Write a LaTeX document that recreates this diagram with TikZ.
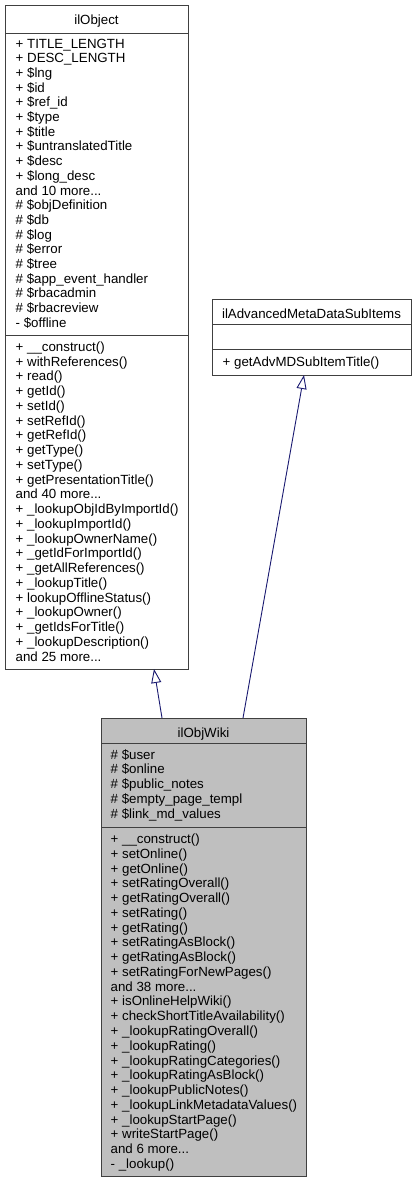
\documentclass[tikz,border=0pt]{standalone}
\usepackage{fontspec}
\setmainfont{Liberation Sans}
\usetikzlibrary{arrows.meta}
\definecolor{edgeblue}{HTML}{191970}
\definecolor{boxline}{HTML}{404040}
\definecolor{mainfill}{HTML}{BFBFBF}
\newcommand\mydots{...}
\tikzset{
  umlbox/.style={draw=boxline, line width=0.9pt, inner sep=0pt, anchor=north west},
  txt/.style={anchor=base west, inner sep=0pt, font=\fontsize{13.3}{15}\selectfont},
  ttl/.style={anchor=base, inner sep=0pt, font=\fontsize{13.3}{15}\selectfont},
  sepline/.style={draw=boxline, line width=0.9pt},
  inherit/.style={draw=edgeblue, line width=0.9pt, -{Triangle[open, length=14pt, width=10pt]}}
}
\begin{document}
\begin{tikzpicture}[x=1pt,y=-1pt]
\useasboundingbox (0,0) rectangle (416,1181);
% ---------- ilObject ----------
\node[umlbox, fill=white, minimum width=183pt, minimum height=664pt] (obj) at (5,5) {};
\draw[sepline] (5,33) -- (188,33);
\draw[sepline] (5,335) -- (188,335);
\node[ttl] (objT) at (96.5,24.3) {ilObject};
\foreach \t [count=\i from 0] in {
 {+ TITLE\_LENGTH}, {+ DESC\_LENGTH}, {+ \$lng}, {+ \$id}, {+ \$ref\_id}, {+ \$type}, {+ \$title},
 {+ \$untranslatedTitle}, {+ \$desc}, {+ \$long\_desc}, {and 10 more\mydots}, {\# \$objDefinition},
 {\# \$db}, {\# \$log}, {\# \$error}, {\# \$tree}, {\# \$app\_event\_handler}, {\# \$rbacadmin},
 {\# \$rbacreview}, {- \$offline}}
  \node[txt] (objA\i) at (15.5,48+14.7*\i) {\t};
\foreach \t [count=\i from 0] in {
 {+ \_\_construct()}, {+ withReferences()}, {+ read()}, {+ getId()}, {+ setId()}, {+ setRefId()},
 {+ getRefId()}, {+ getType()}, {+ setType()}, {+ getPresentationTitle()}, {and 40 more\mydots},
 {+ \_lookupObjIdByImportId()}, {+ \_lookupImportId()}, {+ \_lookupOwnerName()},
 {+ \_getIdForImportId()}, {+ \_getAllReferences()}, {+ \_lookupTitle()}, {+ lookupOfflineStatus()},
 {+ \_lookupOwner()}, {+ \_getIdsForTitle()}, {+ \_lookupDescription()}, {and 25 more\mydots}}
  \node[txt] (objM\i) at (15.5,351.5+14.74*\i) {\t};
% ---------- ilAdvancedMetaDataSubItems ----------
\node[umlbox, fill=white, minimum width=199pt, minimum height=76pt] (adv) at (212,299) {};
\draw[sepline] (212,324) -- (411,324);
\draw[sepline] (212,349) -- (411,349);
\node[ttl] (advT) at (311.5,318) {ilAdvancedMetaDataSubItems};
\node[txt] (advM0) at (222.5,366) {+ getAdvMDSubItemTitle()};
% ---------- ilObjWiki ----------
\node[umlbox, fill=mainfill, minimum width=205pt, minimum height=458pt] (wiki) at (101,718) {};
\draw[sepline] (101,743) -- (306,743);
\draw[sepline] (101,827) -- (306,827);
\node[ttl] (wikiT) at (203.5,737) {ilObjWiki};
\foreach \t [count=\i from 0] in {
 {\# \$user}, {\# \$online}, {\# \$public\_notes}, {\# \$empty\_page\_templ}, {\# \$link\_md\_values}}
  \node[txt] (wikiA\i) at (110.5,759+14.75*\i) {\t};
\foreach \t [count=\i from 0] in {
 {+ \_\_construct()}, {+ setOnline()}, {+ getOnline()}, {+ setRatingOverall()}, {+ getRatingOverall()},
 {+ setRating()}, {+ getRating()}, {+ setRatingAsBlock()}, {+ getRatingAsBlock()},
 {+ setRatingForNewPages()}, {and 38 more\mydots}, {+ isOnlineHelpWiki()},
 {+ checkShortTitleAvailability()}, {+ \_lookupRatingOverall()}, {+ \_lookupRating()},
 {+ \_lookupRatingCategories()}, {+ \_lookupRatingAsBlock()}, {+ \_lookupPublicNotes()},
 {+ \_lookupLinkMetadataValues()}, {+ \_lookupStartPage()}, {+ writeStartPage()},
 {and 6 more\mydots}, {- \_lookup()}}
  \node[txt] (wikiM\i) at (110.5,843.5+14.77*\i) {\t};
% ---------- inheritance ----------
\coordinate (objB) at (154,669);
\coordinate (advB) at (304,375);
\coordinate (wikiP1) at (162,718);
\coordinate (wikiP2) at (243,718);
\draw[inherit] (wikiP1) -- (objB);
\draw[inherit] (wikiP2) -- (advB);
\end{tikzpicture}
\end{document}
